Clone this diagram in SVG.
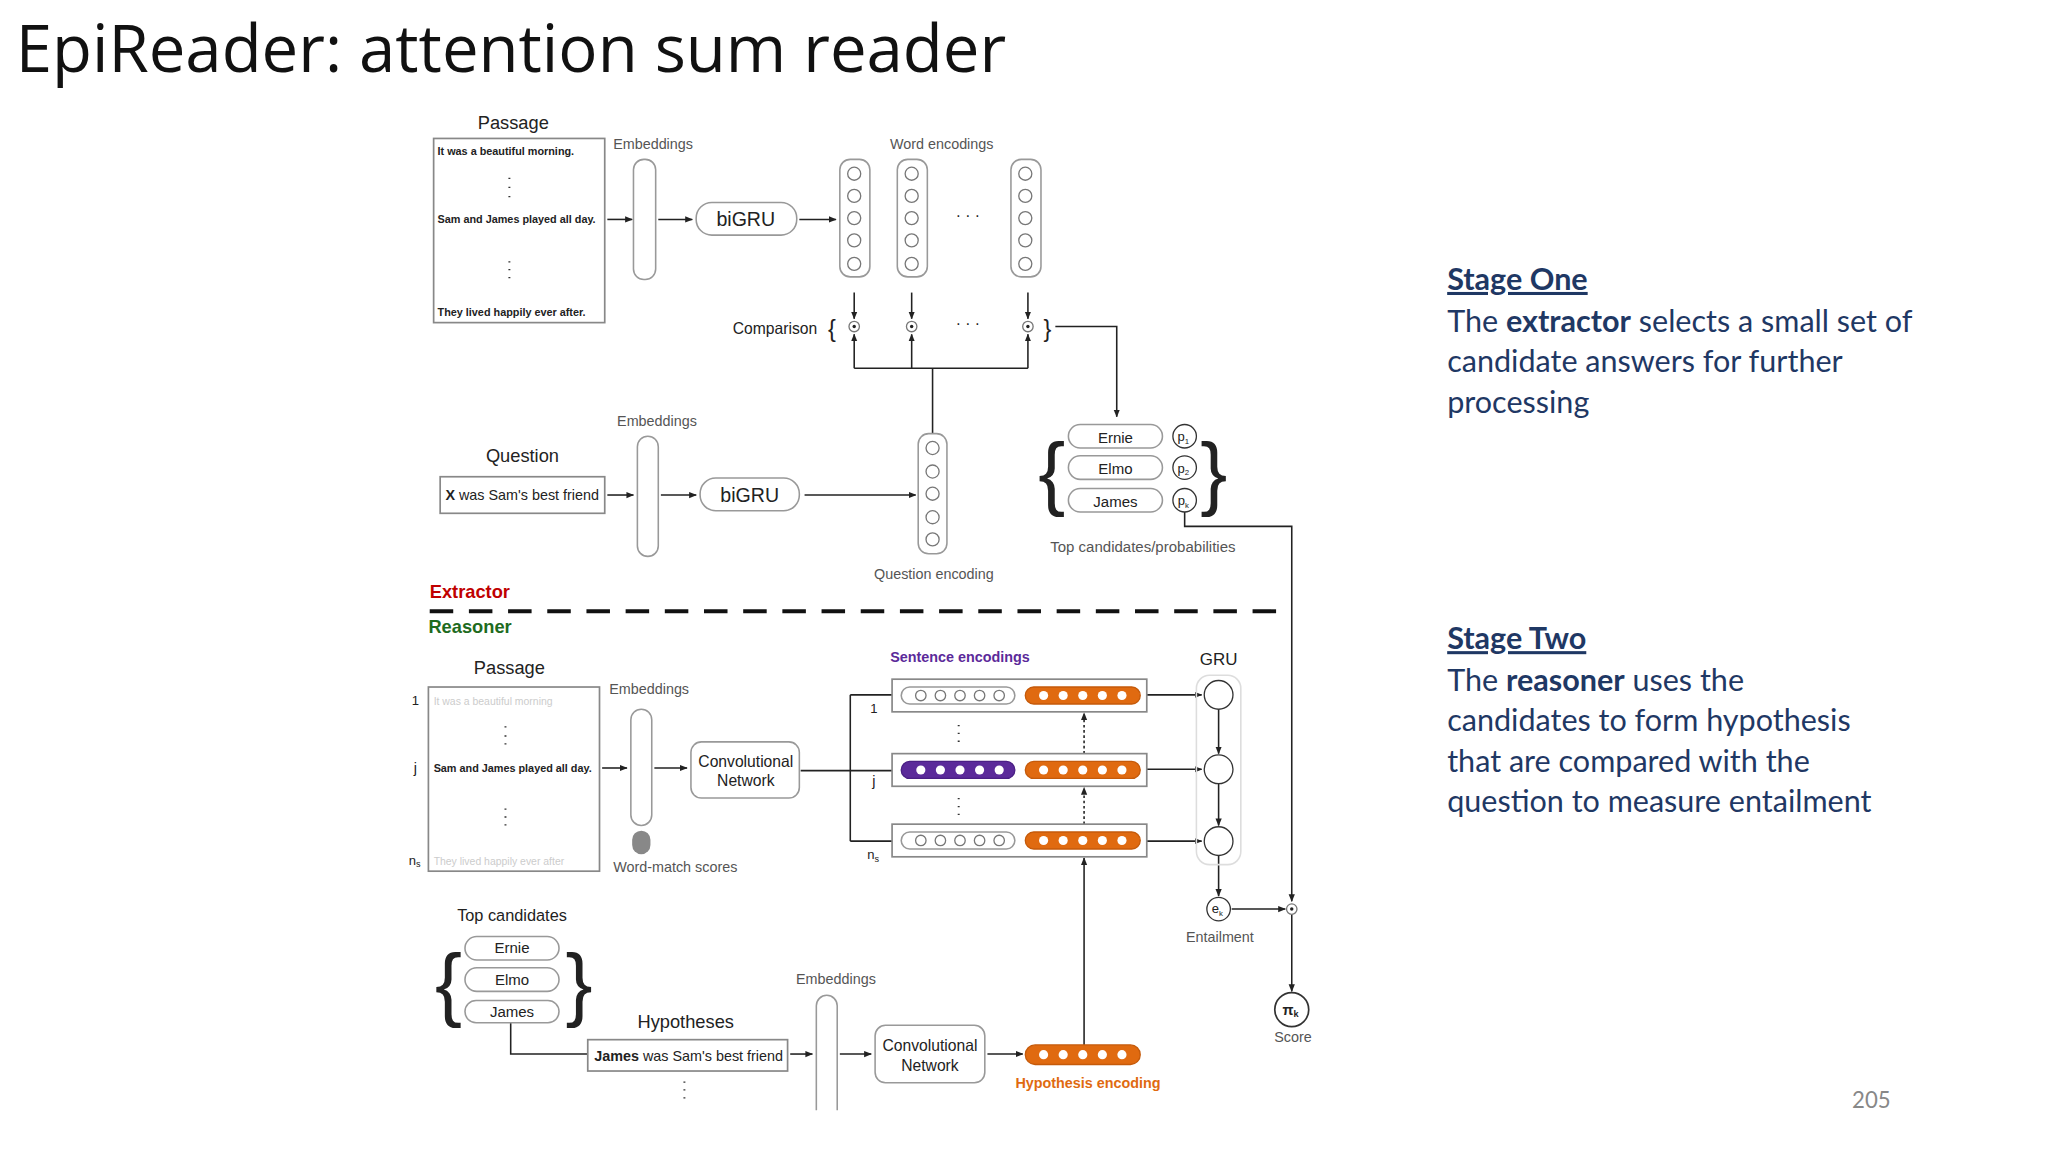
<svg xmlns="http://www.w3.org/2000/svg" width="2048" height="1152" viewBox="0 0 2048 1152">
<defs>
<marker id="ah" viewBox="0 0 10 10" refX="9" refY="5" markerWidth="5" markerHeight="5" orient="auto"><path d="M0,1 L10,5 L0,9 z" fill="#222"/></marker>
<style>
.t{font-family:"Liberation Sans",Arial,sans-serif;fill:#222}
.g{font-family:"Liberation Sans",Arial,sans-serif;fill:#555}
.r{font-family:Lato,"Liberation Sans",sans-serif;fill:#1f3864}
.ln{stroke:#222;stroke-width:1.2;fill:none}
.ar{stroke:#222;stroke-width:1.2;fill:none;marker-end:url(#ah)}
.pill{fill:#fff;stroke:#999;stroke-width:1.2}
.box{fill:#fff;stroke:#888;stroke-width:1.3}
.oc{fill:#fff;stroke:#777;stroke-width:1}
.or{fill:#e06a10;stroke:#c55a0a}
.pu{fill:#5b2a9a;stroke:#4a1f85}
.wc{fill:#fff}
</style>
</defs>
<rect width="2048" height="1152" fill="#fff"/>
<g transform="scale(1.30612)">
<text x="12" y="55" font-family="Open Sans,Lato,sans-serif" font-size="50" fill="#111">EpiReader: attention sum reader</text>

<g id="rightText">
<text class="r" x="1108" y="222" font-size="23.4" font-weight="bold" text-decoration="underline">Stage One</text>
<text class="r" x="1108" y="254" font-size="23.4">The <tspan font-weight="bold">extractor</tspan> selects a small set of</text>
<text class="r" x="1108" y="285" font-size="23.4">candidate answers for further</text>
<text class="r" x="1108" y="316" font-size="23.4">processing</text>
<text class="r" x="1108" y="497" font-size="23.4" font-weight="bold" text-decoration="underline">Stage Two</text>
<text class="r" x="1108" y="529" font-size="23.4">The <tspan font-weight="bold">reasoner</tspan> uses the</text>
<text class="r" x="1108" y="560" font-size="23.4">candidates to form hypothesis</text>
<text class="r" x="1108" y="591" font-size="23.4">that are compared with the</text>
<text class="r" x="1108" y="622" font-size="23.4">question to measure entailment</text>
<text x="1418" y="848" font-family="Lato,sans-serif" font-size="17" fill="#888">205</text>
</g>

<g id="connectors">
<line class="ar" x1="465" y1="168" x2="484" y2="168"/>
<line class="ar" x1="504" y1="168" x2="530" y2="168"/>
<line class="ar" x1="612" y1="168" x2="640" y2="168"/>
<line class="ar" x1="654" y1="224" x2="654" y2="244"/>
<line class="ar" x1="698" y1="224" x2="698" y2="244"/>
<line class="ar" x1="787" y1="224" x2="787" y2="244"/>
<path class="ln" d="M654,282 H787 M714,282 V332"/>
<line class="ar" x1="654" y1="282" x2="654" y2="256"/>
<line class="ar" x1="698" y1="282" x2="698" y2="256"/>
<line class="ar" x1="787" y1="282" x2="787" y2="256"/>
<path class="ar" d="M808,250 H855 V319"/>
<line class="ar" x1="465" y1="379" x2="485" y2="379"/>
<line class="ar" x1="506" y1="379" x2="533" y2="379"/>
<line class="ar" x1="616" y1="379" x2="701" y2="379"/>
<path class="ar" d="M907,392 V403 H989 V690"/>
<line class="ar" x1="461" y1="588" x2="480" y2="588"/>
<line class="ar" x1="501" y1="588" x2="526" y2="588"/>
<line class="ar" x1="613" y1="590" x2="689" y2="590"/>
<path class="ln" d="M651,532 V644"/>
<line class="ar" x1="651" y1="532" x2="689" y2="532"/>
<line class="ar" x1="651" y1="644" x2="689" y2="644"/>
<line class="ar" x1="830" y1="577" x2="830" y2="546" stroke-dasharray="2,2"/>
<line class="ar" x1="830" y1="631" x2="830" y2="603" stroke-dasharray="2,2"/>
<line class="ar" x1="830" y1="800" x2="830" y2="657"/>
<line class="ar" x1="878" y1="532" x2="920" y2="532"/>
<line class="ar" x1="878" y1="589" x2="920" y2="589"/>
<line class="ar" x1="878" y1="644" x2="920" y2="644"/>
<line class="ar" x1="933" y1="543" x2="933" y2="577"/>
<line class="ar" x1="933" y1="600" x2="933" y2="632"/>
<line class="ar" x1="933" y1="655" x2="933" y2="686"/>
<line class="ar" x1="943" y1="696" x2="984" y2="696"/>
<line class="ar" x1="989" y1="700" x2="989" y2="759"/>
<path class="ln" d="M391,783 V807 H450"/>
<line class="ar" x1="605" y1="807" x2="622" y2="807"/>
<line class="ar" x1="643" y1="807" x2="667" y2="807"/>
<line class="ar" x1="756" y1="807" x2="783" y2="807"/>
</g>

<g id="passageTop">
<text class="t" x="393" y="99" font-size="14" text-anchor="middle">Passage</text>
<rect class="box" x="332" y="106" width="131" height="141"/>
<text class="t" x="335" y="119" font-size="8.3" font-weight="bold">It was a beautiful morning.</text>
<text class="t" x="335" y="171" font-size="8.3" font-weight="bold">Sam and James played all day.</text>
<text class="t" x="335" y="242" font-size="8.3" font-weight="bold">They lived happily ever after.</text>
<path d="M390,136v1M390,143v1M390,150v1M390,200v1M390,206v1M390,212v1" stroke="#333" stroke-width="1.5"/>
</g>
<g id="embTop">
<text class="g" x="500" y="114" font-size="11" text-anchor="middle">Embeddings</text>
<rect class="pill" x="485" y="122" width="17" height="92" rx="8"/>
</g>
<g id="bigruTop">
<rect class="pill" x="533" y="155" width="77" height="25" rx="12"/>
<text class="t" x="571" y="173" font-size="15" text-anchor="middle">biGRU</text>
</g>
<g id="wordEnc">
<text class="g" x="721" y="114" font-size="11" text-anchor="middle">Word encodings</text>
<rect class="pill" x="643" y="122" width="23" height="90" rx="8"/>
<rect class="pill" x="687" y="122" width="23" height="90" rx="8"/>
<rect class="pill" x="774" y="122" width="23" height="90" rx="8"/>
<g class="oc">
<circle cx="654" cy="133" r="5"/><circle cx="654" cy="150" r="5"/><circle cx="654" cy="167" r="5"/><circle cx="654" cy="184" r="5"/><circle cx="654" cy="202" r="5"/>
<circle cx="698" cy="133" r="5"/><circle cx="698" cy="150" r="5"/><circle cx="698" cy="167" r="5"/><circle cx="698" cy="184" r="5"/><circle cx="698" cy="202" r="5"/>
<circle cx="785" cy="133" r="5"/><circle cx="785" cy="150" r="5"/><circle cx="785" cy="167" r="5"/><circle cx="785" cy="184" r="5"/><circle cx="785" cy="202" r="5"/>
</g>
<text class="t" x="741" y="169" font-size="12" text-anchor="middle">· · ·</text>
</g>
<g id="comparison">
<text class="t" x="561" y="256" font-size="12">Comparison</text>
<text class="t" x="634" y="258" font-size="18">{</text>
<text class="t" x="799" y="258" font-size="18">}</text>
<circle class="oc" cx="654" cy="250" r="4"/><circle cx="654" cy="250" r="1.3" fill="#222"/>
<circle class="oc" cx="698" cy="250" r="4"/><circle cx="698" cy="250" r="1.3" fill="#222"/>
<circle class="oc" cx="787" cy="250" r="4"/><circle cx="787" cy="250" r="1.3" fill="#222"/>
<text class="t" x="741" y="252" font-size="12" text-anchor="middle">· · ·</text>
</g>
<g id="question">
<text class="t" x="400" y="354" font-size="14" text-anchor="middle">Question</text>
<rect class="box" x="337" y="365" width="126" height="28"/>
<text class="t" x="341" y="383" font-size="11"><tspan font-weight="bold">X</tspan> was Sam's best friend</text>
</g>
<g id="embQ">
<text class="g" x="503" y="326" font-size="11" text-anchor="middle">Embeddings</text>
<rect class="pill" x="488" y="334" width="16" height="92" rx="8"/>
</g>
<g id="bigruQ">
<rect class="pill" x="536" y="366" width="76" height="25" rx="12"/>
<text class="t" x="574" y="384" font-size="15" text-anchor="middle">biGRU</text>
</g>
<g id="qEnc">
<rect class="pill" x="703" y="332" width="22" height="92" rx="8"/>
<g class="oc"><circle cx="714" cy="343" r="5"/><circle cx="714" cy="361" r="5"/><circle cx="714" cy="378" r="5"/><circle cx="714" cy="396" r="5"/><circle cx="714" cy="413" r="5"/></g>
<text class="g" x="715" y="443" font-size="11" text-anchor="middle">Question encoding</text>
</g>
<g id="topCands">
<text class="t" x="795" y="383" font-size="62">{</text>
<text class="t" x="919" y="383" font-size="62">}</text>
<rect class="pill" x="818" y="325" width="72" height="18" rx="9"/><text class="t" x="854" y="339" font-size="11.5" text-anchor="middle">Ernie</text>
<rect class="pill" x="818" y="349" width="72" height="18" rx="9"/><text class="t" x="854" y="363" font-size="11.5" text-anchor="middle">Elmo</text>
<rect class="pill" x="818" y="374" width="72" height="18" rx="9"/><text class="t" x="854" y="388" font-size="11.5" text-anchor="middle">James</text>
<circle cx="907" cy="334" r="9" fill="#fff" stroke="#333"/><text class="t" x="906" y="338" font-size="10" text-anchor="middle">p<tspan font-size="6" dy="2">1</tspan></text>
<circle cx="907" cy="358" r="9" fill="#fff" stroke="#333"/><text class="t" x="906" y="362" font-size="10" text-anchor="middle">p<tspan font-size="6" dy="2">2</tspan></text>
<circle cx="907" cy="383" r="9" fill="#fff" stroke="#333"/><text class="t" x="906" y="387" font-size="10" text-anchor="middle">p<tspan font-size="6" dy="2">k</tspan></text>
<text class="g" x="875" y="423" font-size="11.5" text-anchor="middle">Top candidates/probabilities</text>
</g>

<g id="divider">
<text x="329" y="458" font-family="Liberation Sans,Arial,sans-serif" font-size="14" font-weight="bold" fill="#c00000">Extractor</text>
<line x1="329" y1="468" x2="985" y2="468" stroke="#111" stroke-width="3" stroke-dasharray="18,12"/>
<text x="328" y="485" font-family="Liberation Sans,Arial,sans-serif" font-size="14" font-weight="bold" fill="#1e6b1e">Reasoner</text>
</g>

<g id="passageLow">
<text class="t" x="390" y="516" font-size="14" text-anchor="middle">Passage</text>
<rect class="box" x="328" y="526" width="131" height="141"/>
<text class="t" x="332" y="540" font-size="8" style="fill:#ccc">It was a beautiful morning</text>
<text class="t" x="332" y="591" font-size="8.3" font-weight="bold">Sam and James played all day.</text>
<text class="t" x="332" y="662" font-size="8" style="fill:#ccc">They lived happily ever after</text>
<path d="M387,556v1M387,563v1M387,569v1M387,619v1M387,625v1M387,631v1" stroke="#333" stroke-width="1.5"/>
<text class="t" x="318" y="540" font-size="10" text-anchor="middle">1</text>
<text class="t" x="318" y="592" font-size="11" text-anchor="middle">j</text>
<text class="t" x="313" y="662" font-size="10">n<tspan font-size="7" dy="2">s</tspan></text>
</g>
<g id="embLow">
<text class="g" x="497" y="531" font-size="11" text-anchor="middle">Embeddings</text>
<rect class="pill" x="483" y="543" width="16" height="89" rx="8"/>
<rect x="484" y="636" width="14" height="18" rx="7" fill="#888"/>
<text class="g" x="517" y="668" font-size="11" text-anchor="middle">Word-match scores</text>
</g>
<g id="convLow">
<rect class="pill" x="529" y="568" width="83" height="43" rx="8"/>
<text class="t" x="571" y="587" font-size="12" text-anchor="middle">Convolutional</text>
<text class="t" x="571" y="602" font-size="12" text-anchor="middle">Network</text>
</g>
<g id="sentEnc">
<text x="735" y="507" font-family="Liberation Sans,Arial,sans-serif" font-size="11" font-weight="bold" fill="#5b2a9a" text-anchor="middle">Sentence encodings</text>
<rect class="box" x="683" y="520" width="195" height="25"/>
<rect class="box" x="683" y="577" width="195" height="25"/>
<rect class="box" x="683" y="631" width="195" height="25"/>
<rect class="pill" x="690" y="526" width="87" height="13" rx="6.5"/>
<rect class="pu" x="690" y="583" width="87" height="13" rx="6.5"/>
<rect class="pill" x="690" y="637" width="87" height="13" rx="6.5"/>
<rect class="or" x="785" y="526" width="88" height="13" rx="6.5"/>
<rect class="or" x="785" y="583" width="88" height="13" rx="6.5"/>
<rect class="or" x="785" y="637" width="88" height="13" rx="6.5"/>
<g class="oc"><circle cx="705" cy="532.5" r="4"/><circle cx="720" cy="532.5" r="4"/><circle cx="735" cy="532.5" r="4"/><circle cx="750" cy="532.5" r="4"/><circle cx="765" cy="532.5" r="4"/>
<circle cx="705" cy="643.5" r="4"/><circle cx="720" cy="643.5" r="4"/><circle cx="735" cy="643.5" r="4"/><circle cx="750" cy="643.5" r="4"/><circle cx="765" cy="643.5" r="4"/></g>
<g class="wc"><circle cx="705" cy="589.5" r="3.5"/><circle cx="720" cy="589.5" r="3.5"/><circle cx="735" cy="589.5" r="3.5"/><circle cx="750" cy="589.5" r="3.5"/><circle cx="765" cy="589.5" r="3.5"/>
<circle cx="799" cy="532.5" r="3.5"/><circle cx="814" cy="532.5" r="3.5"/><circle cx="829" cy="532.5" r="3.5"/><circle cx="844" cy="532.5" r="3.5"/><circle cx="859" cy="532.5" r="3.5"/>
<circle cx="799" cy="589.5" r="3.5"/><circle cx="814" cy="589.5" r="3.5"/><circle cx="829" cy="589.5" r="3.5"/><circle cx="844" cy="589.5" r="3.5"/><circle cx="859" cy="589.5" r="3.5"/>
<circle cx="799" cy="643.5" r="3.5"/><circle cx="814" cy="643.5" r="3.5"/><circle cx="829" cy="643.5" r="3.5"/><circle cx="844" cy="643.5" r="3.5"/><circle cx="859" cy="643.5" r="3.5"/></g>
<text class="t" x="669" y="546" font-size="10" text-anchor="middle">1</text>
<text class="t" x="669" y="602" font-size="11" text-anchor="middle">j</text>
<text class="t" x="664" y="658" font-size="10">n<tspan font-size="7" dy="2">s</tspan></text>
<path d="M734,555v1M734,561v1M734,567v1M734,611v1M734,617v1M734,623v1" stroke="#333" stroke-width="1.5"/>
</g>
<g id="gru">
<text class="t" x="933" y="509" font-size="13" text-anchor="middle">GRU</text>
<rect x="916" y="517" width="34" height="145" rx="10" fill="none" stroke="#ddd" stroke-width="1.2"/>
<circle cx="933" cy="532" r="11" fill="#fff" stroke="#333"/>
<circle cx="933" cy="589" r="11" fill="#fff" stroke="#333"/>
<circle cx="933" cy="644" r="11" fill="#fff" stroke="#333"/>
</g>
<g id="entail">
<circle cx="933" cy="696" r="9" fill="#fff" stroke="#333"/>
<text class="t" x="932" y="699" font-size="10" text-anchor="middle">e<tspan font-size="6" dy="2">k</tspan></text>
<text class="g" x="934" y="721" font-size="11" text-anchor="middle">Entailment</text>
<circle class="oc" cx="989" cy="696" r="4"/><circle cx="989" cy="696" r="1.3" fill="#222"/>
</g>
<g id="score">
<circle cx="989" cy="773" r="13" fill="#fff" stroke="#333" stroke-width="1.3"/>
<text class="t" x="988" y="777" font-size="11" font-weight="bold" text-anchor="middle">π<tspan font-size="7" dy="2">k</tspan></text>
<text class="g" x="990" y="798" font-size="11" text-anchor="middle">Score</text>
</g>
<g id="candsLow">
<text class="t" x="392" y="705" font-size="12.5" text-anchor="middle">Top candidates</text>
<text class="t" x="333" y="774" font-size="62">{</text>
<text class="t" x="433" y="774" font-size="62">}</text>
<rect class="pill" x="356" y="717" width="72" height="18" rx="9"/><text class="t" x="392" y="730" font-size="11.5" text-anchor="middle">Ernie</text>
<rect class="pill" x="356" y="741" width="72" height="18" rx="9"/><text class="t" x="392" y="754" font-size="11.5" text-anchor="middle">Elmo</text>
<rect class="pill" x="356" y="766" width="72" height="17" rx="8.5"/><text class="t" x="392" y="779" font-size="11.5" text-anchor="middle">James</text>
</g>
<g id="hypo">
<text class="t" x="525" y="787" font-size="14" text-anchor="middle">Hypotheses</text>
<rect class="box" x="450" y="796" width="153" height="24"/>
<text class="t" x="455" y="812" font-size="11"><tspan font-weight="bold">James</tspan> was Sam's best friend</text>
<path d="M524,828v1M524,834v1M524,840v1" stroke="#333" stroke-width="1.5"/>
</g>
<g id="embH">
<text class="g" x="640" y="753" font-size="11" text-anchor="middle">Embeddings</text>
<path d="M625,850 V770 a8,8 0 0 1 16,0 V850" fill="#fff" stroke="#999" stroke-width="1.2"/>
</g>
<g id="convH">
<rect class="pill" x="670" y="785" width="84" height="44" rx="8"/>
<text class="t" x="712" y="805" font-size="12" text-anchor="middle">Convolutional</text>
<text class="t" x="712" y="820" font-size="12" text-anchor="middle">Network</text>
</g>
<g id="hypEnc">
<rect class="or" x="785" y="800" width="88" height="15" rx="7.5"/>
<g class="wc"><circle cx="799" cy="807.5" r="3.5"/><circle cx="814" cy="807.5" r="3.5"/><circle cx="829" cy="807.5" r="3.5"/><circle cx="844" cy="807.5" r="3.5"/><circle cx="859" cy="807.5" r="3.5"/></g>
<text x="833" y="833" font-family="Liberation Sans,Arial,sans-serif" font-size="11" font-weight="bold" fill="#e06a10" text-anchor="middle">Hypothesis encoding</text>
</g>
</g>
</svg>
